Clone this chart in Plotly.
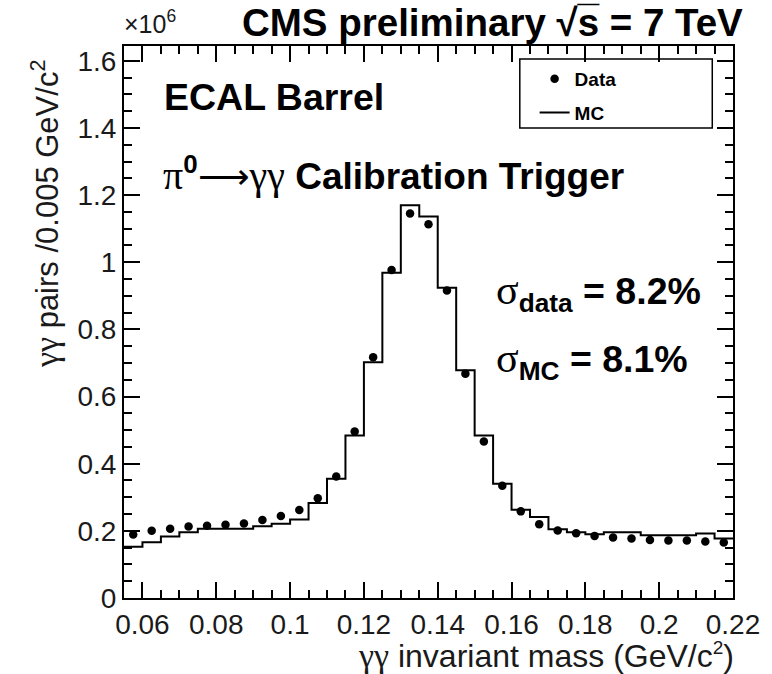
import plotly.graph_objects as go

FONT = "Liberation Sans"
SERIF = "Liberation Serif"

# ---- data (counts in units of 10^6 per 0.005 GeV/c^2 bin) ----
bin_low = [0.055, 0.060, 0.065, 0.070, 0.075, 0.080, 0.085, 0.090, 0.095, 0.100,
           0.105, 0.110, 0.115, 0.120, 0.125, 0.130, 0.135, 0.140, 0.145, 0.150,
           0.155, 0.160, 0.165, 0.170, 0.175, 0.180, 0.185, 0.190, 0.195, 0.200,
           0.205, 0.210, 0.215]
bin_width = 0.005

data_counts = [0.189, 0.200, 0.206, 0.213, 0.215, 0.218, 0.222, 0.232, 0.244, 0.262,
               0.297, 0.362, 0.496, 0.717, 0.977, 1.145, 1.113, 0.916, 0.668, 0.466,
               0.334, 0.258, 0.220, 0.201, 0.193, 0.185, 0.180, 0.177, 0.173, 0.171,
               0.171, 0.168, 0.165]

mc_counts = [0.153, 0.166, 0.183, 0.196, 0.206, 0.206, 0.206, 0.214, 0.221, 0.234,
             0.283, 0.355, 0.484, 0.702, 0.969, 1.170, 1.136, 0.924, 0.678, 0.484,
             0.340, 0.263, 0.241, 0.205, 0.196, 0.190, 0.196, 0.196, 0.187, 0.187,
             0.187, 0.192, 0.177]

x_tick_vals = [0.06, 0.08, 0.10, 0.12, 0.14, 0.16, 0.18, 0.20, 0.22]
x_tick_text = ["0.06", "0.08", "0.1", "0.12", "0.14", "0.16", "0.18", "0.2", "0.22"]
y_tick_vals = [0, 0.2, 0.4, 0.6, 0.8, 1.0, 1.2, 1.4, 1.6]
y_tick_text = ["0", "0.2", "0.4", "0.6", "0.8", "1", "1.2", "1.4", "1.6"]

x_range = [0.055, 0.22]
y_range = [0, 1.644]

# ---- derived ----
x_centers = [b + bin_width / 2 for b in bin_low]
mc_x = bin_low + [bin_low[-1] + bin_width]
mc_y = mc_counts + [mc_counts[-1]]

W, H = 772, 674
L, R, T, B = 124, 31, 46, 76
pw, ph = W - L - R, H - T - B


def px(x):
    return (x - L) / pw


def py(y):
    return (H - B - y) / ph


def serif(s, size=None):
    st = f"font-family:{SERIF}"
    if size:
        st += f";font-size:{size}px"
    return f"<span style='{st}'>{s}</span>"


fig = go.Figure()
fig.add_trace(go.Scatter(
    x=mc_x, y=mc_y, mode="lines", line=dict(shape="hv", color="black", width=2),
    name="<b>MC</b>", legendrank=2, legendgroup="mc"))
fig.add_trace(go.Scatter(
    x=x_centers, y=data_counts, mode="markers",
    marker=dict(symbol="circle", size=8.5, color="black"),
    name="<b>Data</b>", legendrank=1, legendgroup="data"))

axis_common = dict(
    showline=True, linecolor="black", linewidth=2, mirror="allticks",
    ticks="inside", ticklen=16, tickwidth=1.5, tickcolor="black",
    showgrid=False, zeroline=False,
    tickfont=dict(family=FONT, size=28, color="#1a1a1a"),
)

fig.update_xaxes(range=x_range, tickmode="array", tickvals=x_tick_vals,
                 ticktext=x_tick_text,
                 minor=dict(ticks="inside", ticklen=8, dtick=0.005, tick0=0,
                            tickwidth=1.5, tickcolor="black", showgrid=False),
                 **axis_common)
fig.update_yaxes(range=y_range, tickmode="array", tickvals=y_tick_vals,
                 ticktext=y_tick_text,
                 minor=dict(ticks="inside", ticklen=8, dtick=0.05, tick0=0,
                            tickwidth=1.5, tickcolor="black", showgrid=False),
                 **axis_common)

annotations = [
    dict(text="×10<sup>6</sup>", x=px(122), y=py(22), xanchor="left", yanchor="middle",
         font=dict(family=FONT, size=25, color="#1a1a1a")),
    dict(text="<b>CMS preliminary √s\u0305 = 7 TeV</b>", x=px(497), y=py(23),
         xanchor="center", yanchor="middle", font=dict(family=FONT, size=38.5, color="black")),
    dict(text="<b>ECAL Barrel</b>", x=px(163), y=py(97), xanchor="left", yanchor="middle",
         font=dict(family=FONT, size=37.5, color="black")),
    dict(text=serif("π", 40) + "<b><sup>0</sup></b>" + serif("⟶", 36) + serif("γγ", 40)
         + " <b>Calibration Trigger</b>",
         x=px(161), y=py(174), xanchor="left", yanchor="middle",
         font=dict(family=FONT, size=37, color="black")),
    dict(text=serif("σ", 42) + "<b><sub>data</sub> = 8.2%</b>", x=px(499), y=py(292),
         xanchor="left", yanchor="middle", font=dict(family=FONT, size=37.5, color="black")),
    dict(text=serif("σ", 42) + "<b><sub>MC</sub> = 8.1%</b>", x=px(499), y=py(360),
         xanchor="left", yanchor="middle", font=dict(family=FONT, size=37.5, color="black")),
    dict(text=serif("γγ", 34) + " invariant mass (GeV/c<sup><span style='font-size:19px'>2</span></sup>)",
         x=px(744), y=py(655), xanchor="right", yanchor="middle",
         font=dict(family=FONT, size=32, color="#1a1a1a")),
    dict(text=serif("γγ", 34) + " pairs /0.005 GeV/c<sup>2</sup>", textangle=-90,
         x=px(44), y=py(214), xanchor="center", yanchor="middle",
         font=dict(family=FONT, size=31, color="#1a1a1a")),
]
for a in annotations:
    a.update(xref="paper", yref="paper", showarrow=False)

fig.update_layout(
    width=W, height=H, margin=dict(l=L, r=R, t=T, b=B),
    paper_bgcolor="white", plot_bgcolor="white",
    annotations=annotations,
    shapes=[dict(type="rect", xref="paper", yref="paper",
                 x0=px(525), x1=px(720), y0=py(128), y1=py(59),
                 line=dict(color="black", width=1.5), fillcolor="rgba(0,0,0,0)")],
    showlegend=True,
    legend=dict(x=px(540), y=py(60), xanchor="left", yanchor="top",
                bgcolor="rgba(0,0,0,0)", borderwidth=0, tracegroupgap=6,
                font=dict(family=FONT, size=19, color="black")),
)

fig.write_html("out.html")
